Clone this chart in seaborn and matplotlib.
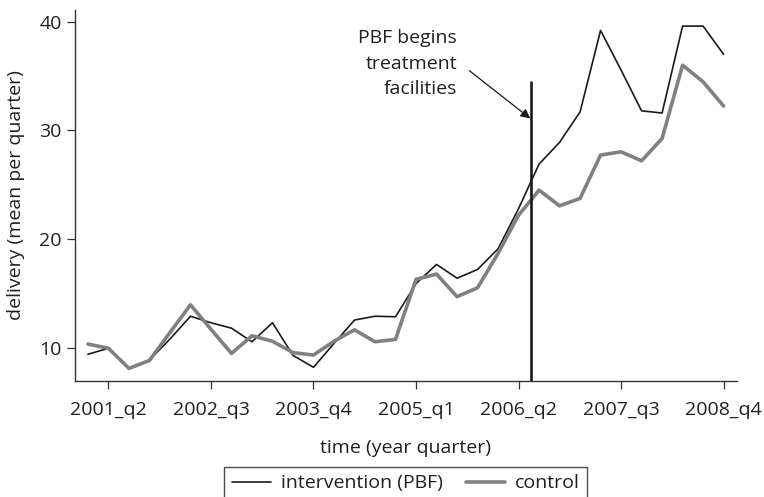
import matplotlib
matplotlib.use("Agg")
import matplotlib.pyplot as plt
import seaborn as sns
import pandas as pd

# Quarterly series, 2001_q1 .. 2008_q4
quarters = [f"{y}_q{q}" for y in range(2001, 2009) for q in range(1, 5)]

intervention = [9.4, 9.95, 8.1, 8.87, 10.8, 12.9, 12.3, 11.8, 10.55, 12.3, 9.3, 8.2,
                10.4, 12.55, 12.9, 12.85, 15.9, 17.67, 16.4, 17.2, 19.1, 22.8, 26.9, 28.9,
                31.7, 39.2, 35.55, 31.8, 31.6, 39.6, 39.6, 37.0]
control = [10.34, 9.95, 8.1, 8.83, 11.4, 13.95, 11.7, 9.48, 11.1, 10.6, 9.55, 9.33,
           10.6, 11.65, 10.55, 10.77, 16.29, 16.78, 14.7, 15.52, 18.68, 22.2, 24.5, 23.06,
           23.74, 27.73, 28.03, 27.2, 29.26, 36.0, 34.47, 32.24]

tick_labels = ["2001_q2", "2002_q3", "2003_q4", "2005_q1", "2006_q2", "2007_q3", "2008_q4"]
pbf_start = 21.62  # position of the PBF start marker on the quarter axis
pbf_top = 34.55

df = pd.DataFrame({
    "t": list(range(len(quarters))) * 2,
    "value": intervention + control,
    "group": ["intervention (PBF)"] * len(quarters) + ["control"] * len(quarters),
})

sns.set_theme(style="ticks")
plt.rcParams["font.family"] = ["Open Sans", "DejaVu Sans"]
plt.rcParams["font.size"] = 14

fig = plt.figure(figsize=(7.64, 4.97), dpi=100)
ax = fig.add_axes([0.0982, 0.2334, 0.8661, 0.7465])

sns.lineplot(data=df[df.group == "intervention (PBF)"], x="t", y="value",
             color="#1a1a1a", linewidth=1.2, ax=ax, label="intervention (PBF)")
sns.lineplot(data=df[df.group == "control"], x="t", y="value",
             color="#808080", linewidth=2.6, ax=ax, label="control")

ax.plot([pbf_start, pbf_start], [6.94, pbf_top], color="#1a1a1a", linewidth=1.9,
        solid_capstyle="butt", zorder=5)

ax.annotate("", xy=(pbf_start - 0.05, 31.1), xytext=(18.6, 35.5),
            arrowprops=dict(arrowstyle="-|>", color="#1a1a1a", lw=0.9,
                            mutation_scale=14, shrinkA=0, shrinkB=0))
for txt, yv in [("PBF begins", 38.5), ("treatment", 36.1), ("facilities", 33.8)]:
    ax.text(18.0, yv, txt, ha="right", va="center", fontsize=14, color="#231f20")

ax.set_xlim(-0.63, 31.64)
ax.set_ylim(6.94, 41.08)
ax.set_xticks([1, 6, 11, 16, 21, 26, 31])
ax.set_xticklabels(tick_labels)
ax.set_yticks([10, 20, 30, 40])

for side in ["top", "right"]:
    ax.spines[side].set_visible(False)
for side in ["left", "bottom"]:
    ax.spines[side].set_color("#333333")
    ax.spines[side].set_linewidth(1.0)
ax.tick_params(axis="both", length=5.5, width=0.9, color="#333333",
               labelsize=14, labelcolor="#231f20", pad=4)
ax.tick_params(axis="x", pad=9)

ax.set_xlabel("time (year quarter)", fontsize=14, color="#231f20", labelpad=14)
ax.set_ylabel("delivery (mean per quarter)", fontsize=14, color="#231f20", labelpad=10)

ax.get_legend().remove()
handles, labels = ax.get_legend_handles_labels()
leg = fig.legend(handles, labels, loc="upper center", bbox_to_anchor=(0.531, 0.061),
                 borderaxespad=0.0, ncol=2, frameon=True, fancybox=False, fontsize=14,
                 handlelength=2.0, columnspacing=1.2, borderpad=0.4, handletextpad=0.5)
leg.get_frame().set_edgecolor("#231f20")
leg.get_frame().set_linewidth(1.0)
for t in leg.get_texts():
    t.set_color("#231f20")

fig.savefig("out.png", dpi=100)
